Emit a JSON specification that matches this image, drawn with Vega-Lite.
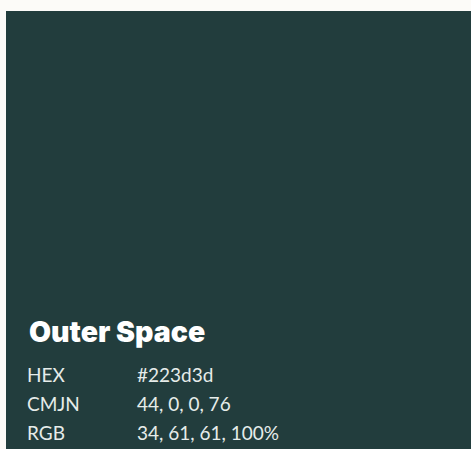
{
  "$schema": "https://vega.github.io/schema/vega-lite/v6.json",
  "width": 471,
  "height": 449,
  "autosize": {"type": "fit", "contains": "padding"},
  "padding": {"left": 6, "top": 11, "right": 0, "bottom": 0},
  "background": "#fcfbf8",
  "view": {"fill": "#223d3d", "stroke": null},
  "config": {"font": "Lato"},
  "datasets": {
    "title": [{"text": "Outer Space", "col": "label", "line": 0}],
    "specs": [
      {"text": "HEX", "col": "label", "line": 1},
      {"text": "#223d3d", "col": "value", "line": 1},
      {"text": "CMJN", "col": "label", "line": 2},
      {"text": "44, 0, 0, 76", "col": "value", "line": 2},
      {"text": "RGB", "col": "label", "line": 3},
      {"text": "34, 61, 61, 100%", "col": "value", "line": 3}
    ]
  },
  "encoding": {
    "x": {"field": "col", "type": "nominal", "scale": {"type": "point", "domain": ["label", "value"], "range": [21, 131], "padding": 0}, "axis": null},
    "y": {"field": "line", "type": "quantitative", "scale": {"domain": [-11.793, 3.31], "reverse": true, "nice": false, "zero": false}, "axis": null},
    "text": {"field": "text", "type": "nominal"}
  },
  "layer": [
    {
      "data": {"name": "title"},
      "mark": {"type": "text", "align": "left", "baseline": "alphabetic", "font": "Inter", "fontSize": 28.5, "fontWeight": 900, "color": "#ffffff", "dy": -11, "dx": 2}
    },
    {
      "data": {"name": "specs"},
      "mark": {"type": "text", "align": "left", "baseline": "alphabetic", "fontSize": 19, "color": "#e6ecea"}
    }
  ]
}
